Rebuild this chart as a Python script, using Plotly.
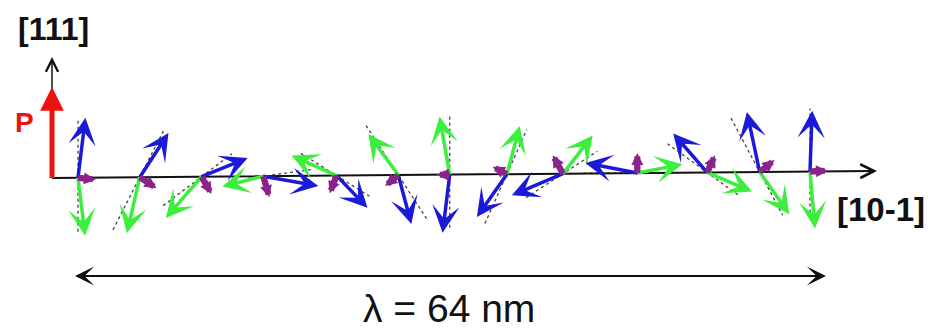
import math
import plotly.graph_objects as go

# ---------------- data ----------------
# spin sites along [10-1] within one cycloid period (nm)
site_x = [0.0, 5.4, 10.8, 16.2, 22.6, 28.0, 32.5, 37.5, 42.4, 48.9, 55.0, 59.6, 64.0]
# sublattice 1 (blue) moment: angle (deg, from [10-1]) and length
blue_angle = [83, 57, 22, -10, -46, -75, -97, -125, -157, 169, 131, 102, 88]
blue_len = [5.28, 4.61, 4.35, 4.89, 3.90, 4.43, 5.11, 4.58, 4.85, 4.63, 4.52, 5.37, 5.33]
# sublattice 2 (green) moment
green_angle = [-83, -103, -131, -166, 156, 126, 100, 75, 52, 11, -23, -55, -85]
green_len = [5.11, 5.03, 4.77, 3.69, 4.30, 4.44, 5.15, 4.35, 4.23, 4.01, 4.27, 4.51, 5.00]
# net (canted) moment, purple
net_angle = [-6, -33, -60, -74, -111, -140, 180, 153, 119, 90, 65, 39, 3]
net_len = [1.57, 1.75, 1.75, 1.92, 1.66, 1.49, 1.14, 1.40, 1.84, 1.75, 1.66, 1.66, 1.57]
# dotted reference direction (angle, forward length, backward length)
ref_angle = [90, 63, 37, 8, -32, -57, -90, 66, 33, 0, -36, -62, 90]
ref_fwd = [4.98, 4.55, 3.32, 4.37, 3.67, 4.81, 4.81, 4.28, 3.58, 3.15, 3.41, 4.28, 5.51]
ref_back = [4.72, 5.16, 4.20, 1.31, 3.67, 5.16, 5.07, 4.72, 3.85, 4.72, 4.28, 5.33, 4.11]

period_nm = 64
axis_labels = {"vertical": "[111]", "horizontal": "[10-1]", "pol": "P"}

# ---------------- frame ----------------
S = 11.4375  # px per nm
W, H = 928, 329
x0_px, y0_px = 78, 178
xr = [-x0_px / S, (W - x0_px) / S]
yr = [-(H - y0_px) / S, y0_px / S]

origin = (-26 / S, 0.0)
h_tip = (799 / S, 7 / S)
v_tip = (origin[0], 121 / S)
p_tip = (origin[0], 91 / S)
PURPLE = "#8a248a"


def base_y(x):
    return origin[1] + (h_tip[1] - origin[1]) * (x - origin[0]) / (h_tip[0] - origin[0])


fig = go.Figure()

# dotted reference lines
dx, dy = [], []
for x, a, f, b in zip(site_x, ref_angle, ref_fwd, ref_back):
    y = base_y(x)
    c, s = math.cos(math.radians(a)), math.sin(math.radians(a))
    dx += [x - b * c, x + f * c, None]
    dy += [y - b * s, y + f * s, None]
fig.add_trace(go.Scatter(x=dx, y=dy, mode="lines",
                         line=dict(color="#444444", width=1.3, dash="dot"),
                         hoverinfo="skip", showlegend=False))

anns = []


def arrow(tail, tip, color, width, head, size, side="end"):
    anns.append(dict(x=tip[0], y=tip[1], ax=tail[0], ay=tail[1],
                     xref="x", yref="y", axref="x", ayref="y",
                     text="", font=dict(size=1), borderpad=0, borderwidth=0,
                     showarrow=True, arrowhead=head, startarrowhead=head,
                     arrowsize=size, startarrowsize=size, arrowside=side,
                     arrowwidth=width, arrowcolor=color, standoff=0, startstandoff=0))


# axes
arrow(origin, h_tip, "#111111", 2, 5, 1.35)
arrow(origin, v_tip, "#111111", 1.5, 5, 1.6)
arrow(origin, p_tip, "#ee1111", 5, 2, 0.95)

# purple shafts (thick lines)
px_, py_ = [], []
for i, x in enumerate(site_x):
    y = base_y(x)
    c, s = math.cos(math.radians(net_angle[i])), math.sin(math.radians(net_angle[i]))
    L = net_len[i] * 0.6
    px_ += [x, x + L * c, None]
    py_ += [y, y + L * s, None]
fig.add_trace(go.Scatter(x=px_, y=py_, mode="lines",
                         line=dict(color=PURPLE, width=6),
                         hoverinfo="skip", showlegend=False))

# spin arrows
for i, x in enumerate(site_x):
    y = base_y(x)
    for ang, ln, col, w, hd, sz in [
        (blue_angle[i], blue_len[i], "#1a1ad8", 3.5, 3, 1.3),
        (green_angle[i], green_len[i], "#3cef3c", 3.5, 3, 1.3),
    ]:
        t = (x + ln * math.cos(math.radians(ang)), y + ln * math.sin(math.radians(ang)))
        arrow((x, y), t, col, w, hd, sz)
for i, x in enumerate(site_x):
    y = base_y(x)
    a = net_angle[i]
    t = (x + net_len[i] * math.cos(math.radians(a)), y + net_len[i] * math.sin(math.radians(a)))
    arrow((x, y), t, PURPLE, 6, 2, 0.4)

# period double arrow
lam_y = -98 / S
arrow((-3 / S, lam_y), (748 / S, lam_y), "#111111", 2, 3, 1.6, side="end+start")

font = "Arial, Liberation Sans, sans-serif"
anns.append(dict(x=-25 / S, y=149 / S, xref="x", yref="y", text="<b>%s</b>" % axis_labels["vertical"],
                 showarrow=False, font=dict(family=font, size=32, color="#111111")))
anns.append(dict(x=-54 / S, y=56 / S, xref="x", yref="y", text="<b>%s</b>" % axis_labels["pol"],
                 showarrow=False, font=dict(family=font, size=28, color="#ee1111")))
anns.append(dict(x=803 / S, y=-31 / S, xref="x", yref="y", text="<b>%s</b>" % axis_labels["horizontal"],
                 showarrow=False, font=dict(family=font, size=33, color="#111111")))
anns.append(dict(x=371 / S, y=-130 / S, xref="x", yref="y", text="λ = %d nm" % period_nm,
                 showarrow=False, font=dict(family=font, size=39, color="#111111")))

fig.update_layout(
    width=W, height=H, margin=dict(l=0, r=0, t=0, b=0, pad=0),
    paper_bgcolor="white", plot_bgcolor="white",
    xaxis=dict(range=xr, visible=False, fixedrange=True),
    yaxis=dict(range=yr, visible=False, fixedrange=True),
    annotations=anns, showlegend=False,
)
fig.write_html("out.html")
